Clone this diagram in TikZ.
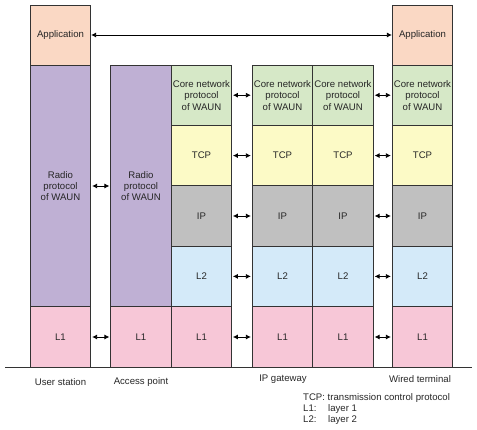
\documentclass[tikz,border=0pt]{standalone}
\usepackage{fontspec}
\setmainfont{Liberation Sans}
\usetikzlibrary{arrows.meta}
\definecolor{appc}{HTML}{FAD8C4}
\definecolor{radc}{HTML}{BFB0D4}
\definecolor{corec}{HTML}{D6E8C7}
\definecolor{tcpc}{HTML}{FCFAC6}
\definecolor{ipc}{HTML}{C0C0C0}
\definecolor{ltwoc}{HTML}{D4EAF9}
\definecolor{lonec}{HTML}{F7C7D7}
\definecolor{linec}{HTML}{333333}
\begin{document}
\begin{tikzpicture}[x=1pt,y=-1pt,
  font=\fontsize{9.6}{11.4}\selectfont,
  box/.style={draw=linec,line width=0.7pt,inner sep=0pt,minimum width=60.5pt,align=center,text=black!85},
  lay/.style={box,minimum height=60.4pt},
  biarrow/.style={{Latex[length=5pt,width=5pt]}-{Latex[length=5pt,width=5pt]},line width=0.8pt,black},
  lbl/.style={inner sep=0pt,text=black!85}]
\useasboundingbox (0,0) rectangle (477,430);
% User station
\node[box,minimum height=60pt,fill=appc] (usapp) at (60.5,35) {Application};
\node[box,minimum height=242pt,fill=radc] (usrad) at (60.5,186) {Radio\\protocol\\of WAUN};
\node[lay,fill=lonec] (usl1) at (60.5,337) {L1};
% Access point
\node[box,minimum height=242pt,fill=radc] (aprad) at (141,186) {Radio\\protocol\\of WAUN};
\node[lay,fill=lonec] (apl1) at (141,337) {L1};
\node[lay,fill=corec] (apcore) at (201.5,95.2) {Core network\\protocol\\of WAUN};
\node[lay,fill=tcpc] (aptcp) at (201.5,155.6) {TCP};
\node[lay,fill=ipc] (apip) at (201.5,216) {IP};
\node[lay,fill=ltwoc] (apl2) at (201.5,276.4) {L2};
\node[lay,fill=lonec] (apl1b) at (201.5,337) {L1};
% IP gateway
\foreach \n/\cx in {ga/282.5,gb/343}{
\node[lay,fill=corec] (\n core) at (\cx,95.2) {Core network\\protocol\\of WAUN};
\node[lay,fill=tcpc] (\n tcp) at (\cx,155.6) {TCP};
\node[lay,fill=ipc] (\n ip) at (\cx,216) {IP};
\node[lay,fill=ltwoc] (\n l2) at (\cx,276.4) {L2};
\node[lay,fill=lonec] (\n l1) at (\cx,337) {L1};
}
% Wired terminal
\node[box,minimum height=60pt,fill=appc] (wtapp) at (422.5,35) {Application};
\node[lay,fill=corec] (wtcore) at (422.5,95.2) {Core network\\protocol\\of WAUN};
\node[lay,fill=tcpc] (wttcp) at (422.5,155.6) {TCP};
\node[lay,fill=ipc] (wtip) at (422.5,216) {IP};
\node[lay,fill=ltwoc] (wtl2) at (422.5,276.4) {L2};
\node[lay,fill=lonec] (wtl1) at (422.5,337) {L1};
% ground
\coordinate (gl) at (5,367.3);
\coordinate (gr) at (472,367.3);
\draw[linec,line width=0.7pt] (gl) -- (gr);
% arrows
\draw[biarrow] (usapp.east) -- (wtapp.west);
\draw[biarrow,shorten <=1pt,shorten >=1pt] (usrad.east) -- (aprad.west);
\draw[biarrow,shorten <=1pt,shorten >=1pt] (usl1.east) -- (apl1.west);
\foreach \l in {core,tcp,ip,l2,l1}{
\draw[biarrow,shorten <=2pt,shorten >=1pt] (ga\l.west) ++(-21,0) -- (ga\l.west);
\draw[biarrow,shorten <=1pt,shorten >=1pt] (gb\l.east) -- (wt\l.west);
}
% labels
\node[lbl] (lus) at (60.5,382) {User station};
\node[lbl] (lap) at (141,382) {Access point};
\node[lbl] (lgw) at (283,379) {IP gateway};
\node[lbl] (lwt) at (420,379) {Wired terminal};
\node[lbl,anchor=base west] (leg1) at (303,400.5) {TCP: transmission control protocol};
\node[lbl,anchor=base west] (leg2) at (303,411.5) {L1:};
\node[lbl,anchor=base west] (leg2b) at (328,411.5) {layer 1};
\node[lbl,anchor=base west] (leg3) at (303,422.5) {L2:};
\node[lbl,anchor=base west] (leg3b) at (328,422.5) {layer 2};
\end{tikzpicture}
\end{document}
